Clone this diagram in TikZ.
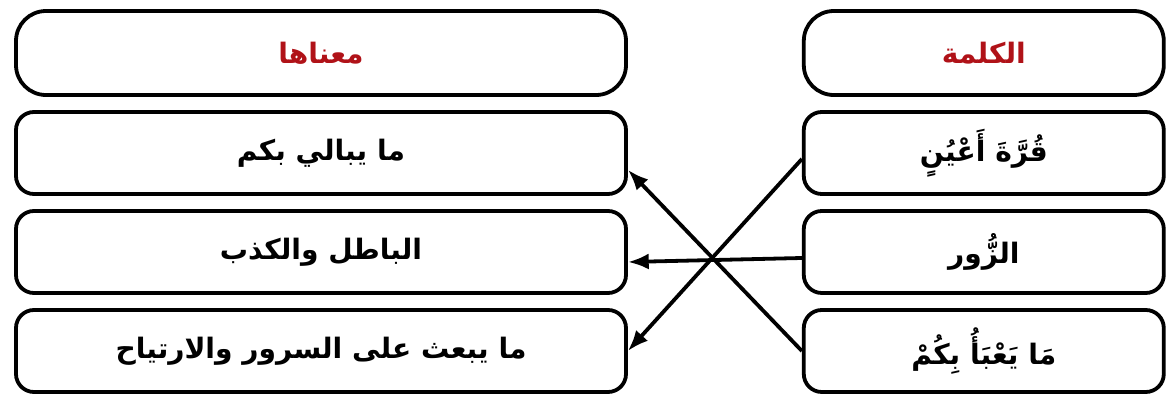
\documentclass[tikz,border=0pt]{standalone}
\usepackage{fontspec}
\usepackage{xcolor}
\usepackage{tikz}
\usetikzlibrary{positioning, arrows.meta}
\TeXXeTstate=1
\newfontfamily\arabicfont[Script=Arabic]{DejaVu Sans}
\definecolor{headred}{RGB}{176,18,24}

\begin{document}
\begin{tikzpicture}[ node distance = 0.33cm and 4.35cm
                     , font = \arabicfont\bfseries\fontsize{20}{24}\selectfont
                     , >={Latex[width=0.4cm, length=0.52cm]}
                     , line width = 2.7pt
                     , cell/.style = { rectangle
                                     , rounded corners = 0.45cm
                                     , draw = black
                                     , align = center
                                     , inner sep = 0pt
                                     , minimum height = 2.05cm }
                     , wide/.style = { cell, minimum width = 15.25cm }
                     , narrow/.style = { cell, minimum width = 9cm }
                     , head/.style = { rounded corners = 0.75cm
                                     , minimum height = 2.1cm
                                     , text = headred }
                     ]

  \useasboundingbox (0,0) rectangle (29.225,-9.95);

  % column headings
  \node (meaning) [wide, head] at (8.025,-1.325) {\beginR معناها\endR};
  \node (word) [narrow, head, right = of meaning] {\beginR الكلمة\endR};

  % meanings
  \node (m1) [wide, below = of meaning] {\beginR ما يبالي بكم\endR};
  \node (m2) [wide, below = of m1] {\beginR الباطل والكذب\endR};
  \node (m3) [wide, below = of m2] {\beginR ما يبعث على السرور والارتياح\endR};

  % words
  \node (w1) [narrow, below = of word] {\beginR قُرَّةَ أَعْيُنٍ\endR};
  \node (w2) [narrow, below = of w1] {\beginR الزُّور\endR};
  \node (w3) [narrow, below = of w2] {\beginR مَا يَعْبَأُ بِكُمْ\endR};

  \draw[->] ([yshift=-0.15cm]w1.west) -- (m3.east);
  \draw[->] ([yshift=-0.15cm]w2.west) -- ([yshift=-0.25cm]m2.east);
  \draw[->] (w3.west) -- ([yshift=-0.42cm]m1.east);

\end{tikzpicture}
\end{document}
